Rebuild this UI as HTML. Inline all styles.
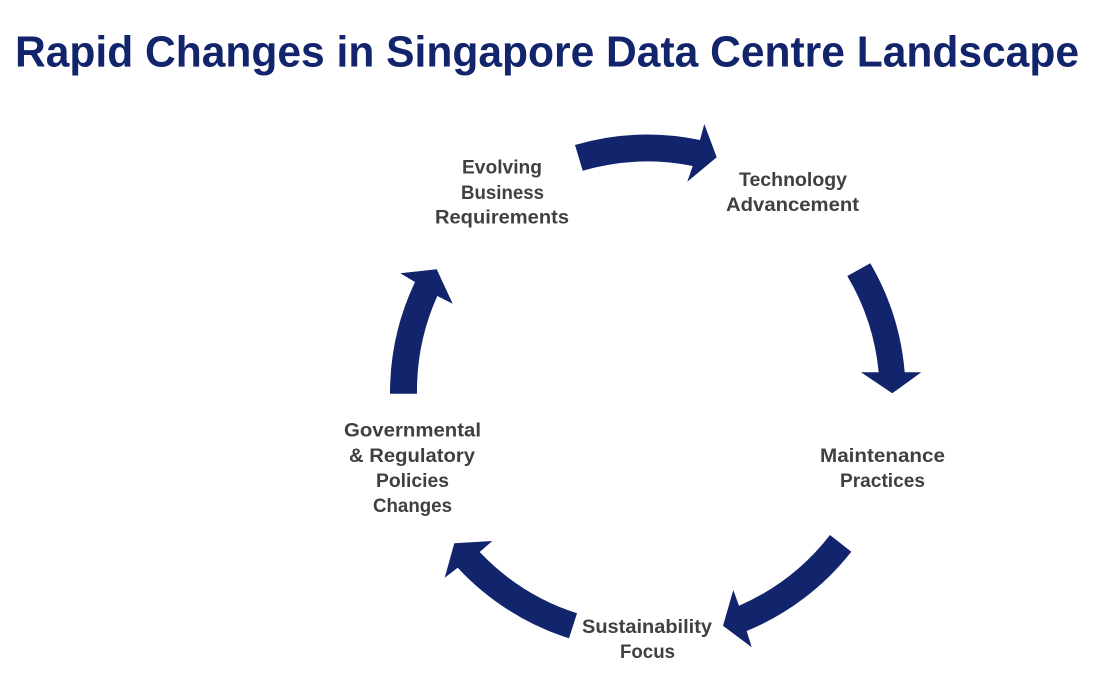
<!DOCTYPE html>
<html lang="en">
<head>
<meta charset="utf-8">
<title>Rapid Changes in Singapore Data Centre Landscape</title>
<style>
html,body{margin:0;padding:0;background:#fff;width:1110px;height:683px;overflow:hidden}
svg{display:block}
.t{font-family:"Liberation Sans",sans-serif;font-weight:700;font-size:19.5px;fill:#404040}
.a{fill:#12246b}
</style>
</head>
<body>
<svg width="1110" height="683" viewBox="0 0 1110 683" xmlns="http://www.w3.org/2000/svg">
<text x="15" y="66.5" textLength="1064" lengthAdjust="spacingAndGlyphs" style="font-family:'Liberation Sans',sans-serif;font-weight:700;font-size:44px;fill:#12246b">Rapid Changes in Singapore Data Centre Landscape</text>

<path class="a" d="M575,145 A259,259 0 0 1 700,140 L704.3,124 L716.7,157.3 L687.3,181.7 L692.7,166 A232,232 0 0 0 582.7,170.7 Z"/>
<path class="a" d="M870.3,263.3 A259,259 0 0 1 904.7,372.3 L921.3,372.3 L892.3,393.3 L861,372.3 L878.7,372.3 A232,232 0 0 0 847.3,276 Z"/>
<path class="a" d="M851.3,551.7 A259,259 0 0 1 746.7,631 L751.7,647.3 L723,625.7 L733.3,590 L739,605.7 A232,232 0 0 0 830,535 Z"/>
<path class="a" d="M569,638.3 A259,259 0 0 1 457.7,567.7 L444.7,577.7 L454.3,543.3 L492.3,541 L479.7,552 A232,232 0 0 0 577,613.3 Z"/>
<path class="a" d="M390,393.7 A259,259 0 0 1 415,282 L400.3,273.3 L436.7,269.3 L452.7,303.7 L437.3,296 A232,232 0 0 0 417,393.7 Z"/>

<g>
<text class="t" x="462" y="173.5" textLength="80" lengthAdjust="spacingAndGlyphs">Evolving</text>
<text class="t" x="461" y="199" textLength="83" lengthAdjust="spacingAndGlyphs">Business</text>
<text class="t" x="435" y="223.5" textLength="134" lengthAdjust="spacingAndGlyphs">Requirements</text>
</g>
<g>
<text class="t" x="739" y="186" textLength="108" lengthAdjust="spacingAndGlyphs">Technology</text>
<text class="t" x="726" y="211" textLength="133" lengthAdjust="spacingAndGlyphs">Advancement</text>
</g>
<g>
<text class="t" x="820" y="462" textLength="125" lengthAdjust="spacingAndGlyphs">Maintenance</text>
<text class="t" x="840" y="487" textLength="85" lengthAdjust="spacingAndGlyphs">Practices</text>
</g>
<g>
<text class="t" x="582" y="633" textLength="130" lengthAdjust="spacingAndGlyphs">Sustainability</text>
<text class="t" x="620" y="658" textLength="55" lengthAdjust="spacingAndGlyphs">Focus</text>
</g>
<g>
<text class="t" x="344" y="436.7" textLength="137" lengthAdjust="spacingAndGlyphs">Governmental</text>
<text class="t" x="349" y="462" textLength="126" lengthAdjust="spacingAndGlyphs">&amp; Regulatory</text>
<text class="t" x="376" y="487" textLength="73" lengthAdjust="spacingAndGlyphs">Policies</text>
<text class="t" x="373" y="512" textLength="79" lengthAdjust="spacingAndGlyphs">Changes</text>
</g>
</svg>
</body>
</html>
